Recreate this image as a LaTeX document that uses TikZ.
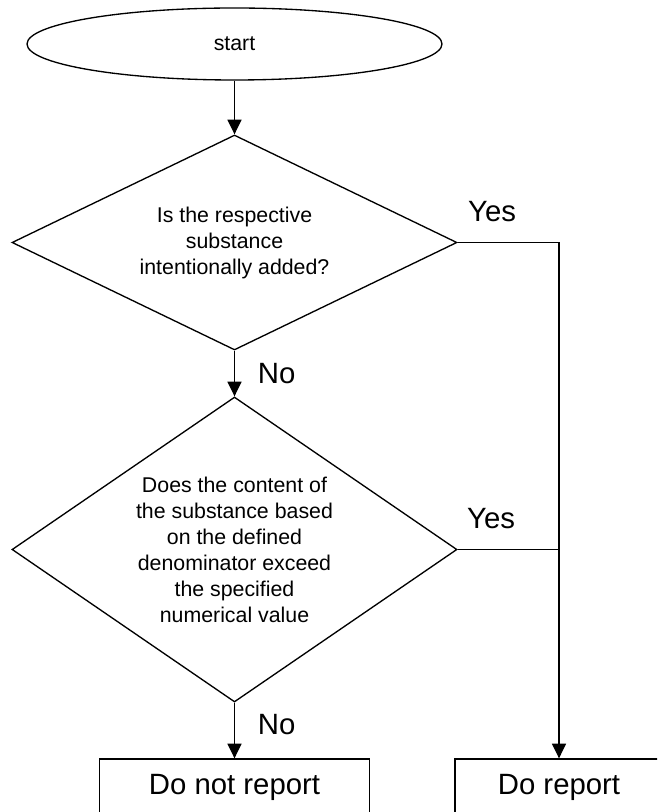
\documentclass[tikz,border=0pt]{standalone}
\usepackage{fontspec}
\setmainfont{Liberation Sans}
\usetikzlibrary{arrows.meta,shapes.geometric}

\begin{document}
\begin{tikzpicture}[x=0.75pt,y=-0.75pt]
\tikzset{edge/.style = {-{Triangle[width=10.5pt,length=11pt]},line width=1pt}}
\tikzset{line/.style = {line width=1pt}}
\tikzset{terminal/.style = {draw,ellipse,line width=1pt,inner sep=0pt,minimum width=311.25pt,minimum height=54pt,font=\fontsize{16}{19.5}\selectfont}}
\tikzset{decision/.style = {draw,diamond,line width=1pt,inner sep=0pt,align=center,minimum width=333.75pt,font=\fontsize{16}{19.5}\selectfont}}
\tikzset{outcome/.style = {draw,rectangle,line width=1pt,minimum height=42pt,font=\fontsize{22}{26}\selectfont}}
\tikzset{lbl/.style = {inner sep=0pt,font=\fontsize{22}{26}\selectfont}}

\path[use as bounding box,clip] (0,0) rectangle (657,812);

\node[terminal] (start) at (234.5,44) {start};
\node[decision,minimum height=161.25pt,shape aspect=2.07] (q1) at (234.5,242.5) {Is the respective\\substance\\intentionally added?};
\node[decision,minimum height=228.75pt,shape aspect=1.46] (q2) at (234.5,549.5) {Does the content of\\the substance based\\on the defined\\denominator exceed\\the specified\\numerical value};
\node[outcome,minimum width=202.5pt] (noreport) at (234.5,787) {Do not report};
\node[outcome,minimum width=156pt] (report) at (559,787) {Do report};

\draw[edge] (start) -- (q1);
\draw[edge] (q1) -- node[lbl,right=17pt] {No} (q2);
\draw[edge] (q2) -- node[lbl,right=17pt,pos=0.4] {No} (noreport);
\draw[edge] (q1.east) -| node[lbl,above=15pt,pos=0.17] {Yes} (report.north);
\draw[line] (q2.east) -- node[lbl,above=15pt,pos=0.33] {Yes} (q2.east -| report.north);

\end{tikzpicture}
\end{document}
